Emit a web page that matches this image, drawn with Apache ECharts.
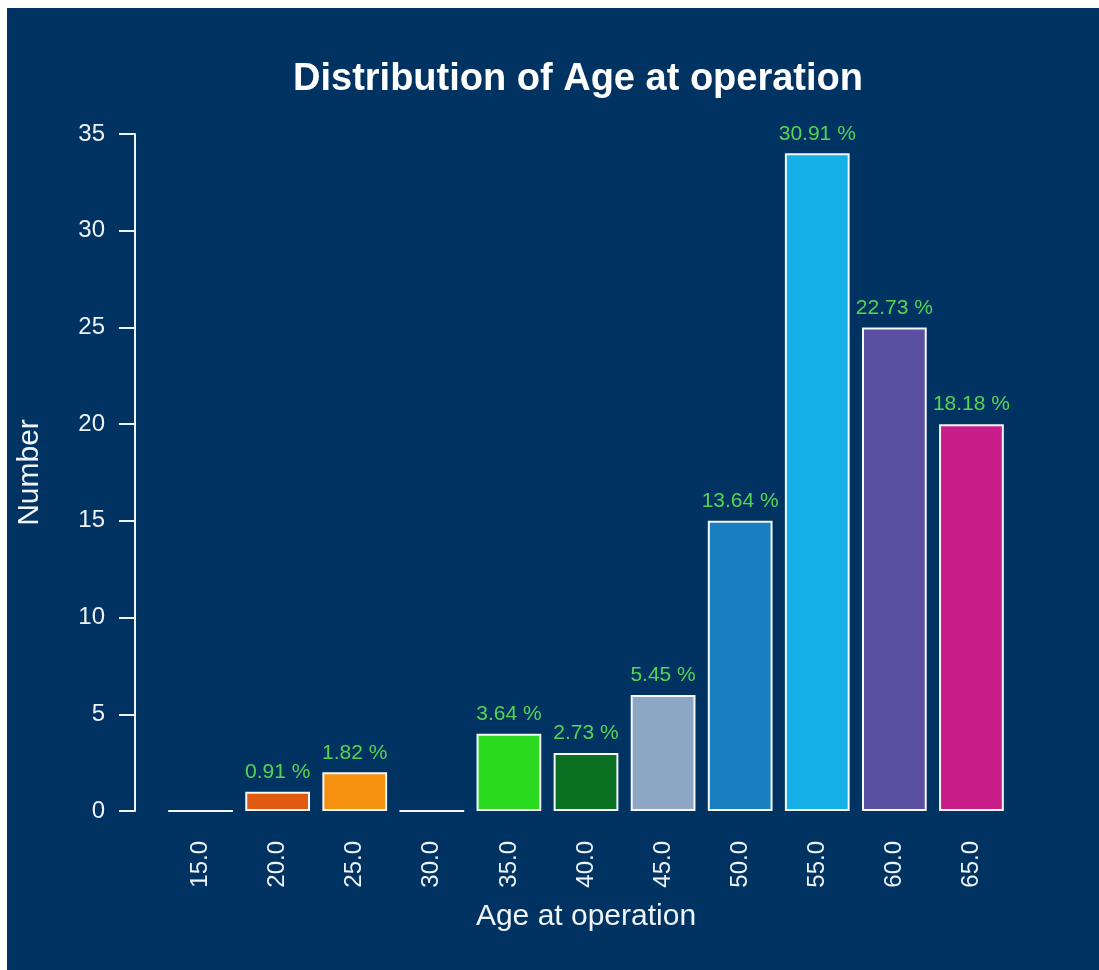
<!DOCTYPE html>
<html>
<head>
<meta charset="utf-8">
<title>Distribution of Age at operation</title>
<script src="https://cdn.jsdelivr.net/npm/echarts@6/dist/echarts.min.js"></script>
<style>
  html, body { margin: 0; padding: 0; background: #ffffff; overflow: hidden; }
  #chart { position: absolute; left: 7px; top: 8px; width: 1092px; height: 962px; }
</style>
</head>
<body>
<div id="chart"></div>
<script>
// Age groups (years) and number of patients operated in each group
const ageLabels = ['15.0', '20.0', '25.0', '30.0', '35.0', '40.0', '45.0', '50.0', '55.0', '60.0', '65.0'];
const counts = [0, 1, 2, 0, 4, 3, 6, 15, 34, 25, 20];
const barColors = ['#d43a2a', '#e05a10', '#f5900f', '#f5d20f', '#2bdb1f', '#087020',
                   '#8ca6c4', '#1a7fc0', '#16b0e8', '#5a4fa0', '#c81e8a'];
const yTicks = { min: 0, max: 35, interval: 5 };

const total = counts.reduce((a, b) => a + b, 0);
const textColor = '#eef3f8';
const font = 'Liberation Sans, Arial, sans-serif';

const chart = echarts.init(document.getElementById('chart'));
chart.setOption({
  backgroundColor: '#003361',
  animation: false,
  title: {
    text: 'Distribution of Age at operation',
    left: 566,
    textAlign: 'center',
    top: 48,
    textStyle: { color: '#ffffff', fontFamily: font, fontWeight: 'bold', fontSize: 38 }
  },
  grid: { left: 147, right: 89, top: 126, bottom: 159 },
  xAxis: {
    type: 'category',
    data: ageLabels,
    name: 'Age at operation',
    nameLocation: 'middle',
    nameGap: 91,
    nameTextStyle: { color: textColor, fontSize: 30, fontFamily: font },
    axisLine: { show: false },
    axisTick: { show: false },
    axisLabel: { rotate: 90, margin: 30, color: textColor, fontSize: 24, fontFamily: font },
    splitLine: { show: false }
  },
  yAxis: {
    type: 'value',
    min: yTicks.min,
    max: yTicks.max,
    interval: yTicks.interval,
    offset: 27,
    name: 'Number',
    nameLocation: 'middle',
    nameGap: 90,
    nameTextStyle: { color: textColor, fontSize: 30, fontFamily: font },
    axisLine: { show: true, lineStyle: { color: textColor, width: 2 } },
    axisTick: { show: true, length: 16, lineStyle: { color: textColor, width: 2 } },
    axisLabel: { margin: 30, color: textColor, fontSize: 24, fontFamily: font },
    splitLine: { show: false }
  },
  series: [{
    type: 'bar',
    barCategoryGap: '16%',
    data: counts.map((v, i) => ({ value: v, itemStyle: { color: barColors[i] } })),
    itemStyle: { borderColor: '#f4f8fb', borderWidth: 2 },
    label: {
      show: true,
      position: 'top',
      distance: 9,
      color: '#55d455',
      fontSize: 21,
      fontFamily: font,
      formatter: p => p.value > 0 ? (p.value / total * 100).toFixed(2) + ' %' : ''
    }
  }]
});
</script>
</body>
</html>
